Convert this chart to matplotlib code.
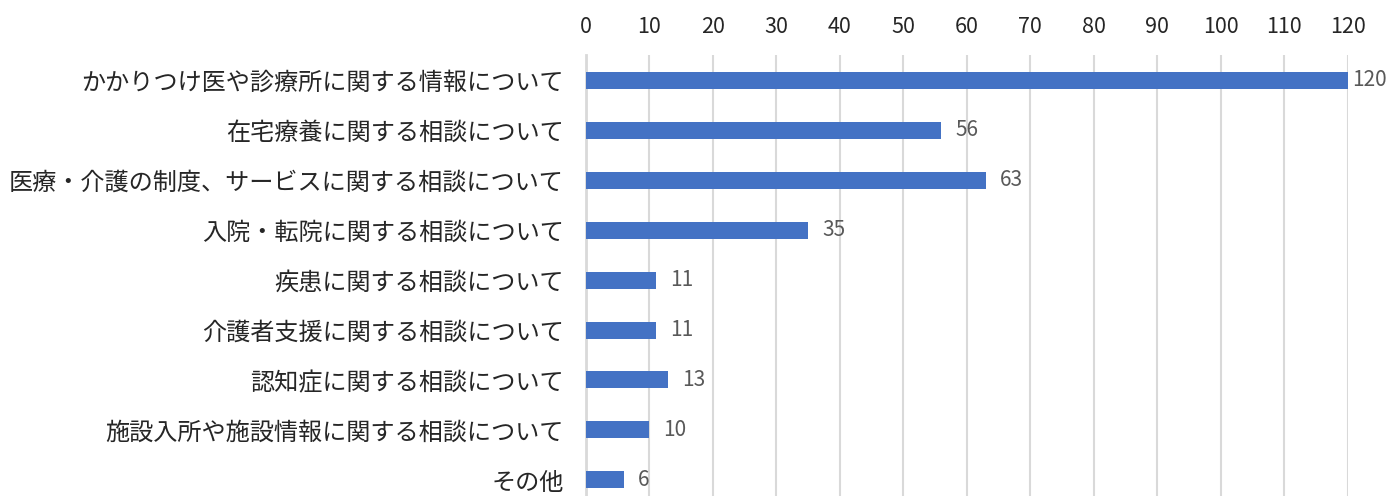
import matplotlib
matplotlib.use('Agg')
import matplotlib.pyplot as plt

plt.rcParams['font.family'] = ['Noto Sans CJK JP', 'DejaVu Sans']

# Data
categories = ['かかりつけ医や診療所に関する情報について',
              '在宅療養に関する相談について',
              '医療・介護の制度、サービスに関する相談について',
              '入院・転院に関する相談について',
              '疾患に関する相談について',
              '介護者支援に関する相談について',
              '認知症に関する相談について',
              '施設入所や施設情報に関する相談について',
              'その他']
values = [120, 56, 63, 35, 11, 11, 13, 10, 6]
xticks = list(range(0, 121, 10))
xmax = 120

fig = plt.figure(figsize=(13.91, 4.96), dpi=100)
ax = fig.add_axes([586 / 1391, 0, (1347.5 - 586) / 1391, (496 - 55) / 496])

ypos = list(range(len(categories)))
ax.barh(ypos, values, height=0.34, color='#4472C4', zorder=3)

# value labels outside the bar end (pulled in when at the edge)
for y, v in zip(ypos, values):
    off = 10 if v < xmax else 3
    ax.annotate(str(v), xy=(v, y), xytext=(off, 0), textcoords='offset points',
                va='center', ha='left', fontsize=15, color='#595959')

ax.set_xlim(0, xmax)
ax.set_ylim(8.32, -0.5)
ax.set_yticks(ypos)
ax.set_yticklabels(categories, fontsize=17.4, color='#262626')
ax.set_xticks(xticks)
ax.xaxis.tick_top()
ax.tick_params(axis='x', labelsize=15.5, colors='#262626', length=0, pad=12)
ax.tick_params(axis='y', length=0, pad=16)

ax.grid(axis='x', color='#D9D9D9', linewidth=1.5, zorder=0)
for s in ['top', 'right', 'bottom']:
    ax.spines[s].set_visible(False)
ax.spines['left'].set_color('#D9D9D9')
ax.spines['left'].set_linewidth(2)

fig.savefig('out.png', dpi=100)
